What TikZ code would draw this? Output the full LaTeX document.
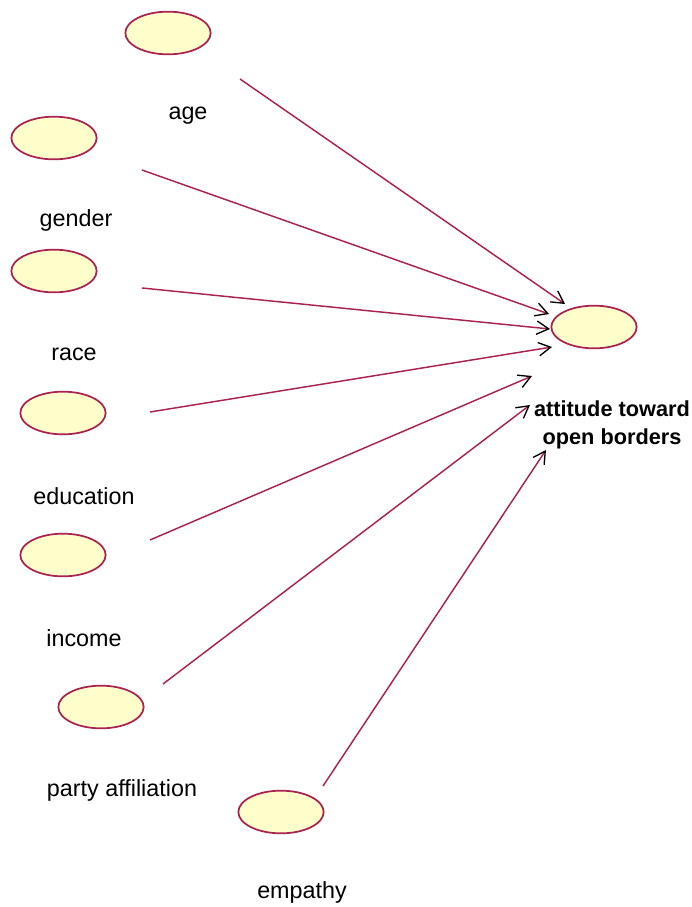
\documentclass[tikz,border=0pt]{standalone}
\usepackage{fontspec}
\setmainfont{Liberation Sans}
\usetikzlibrary{arrows.meta,shapes.geometric}
\definecolor{edgered}{RGB}{170,35,80}
\definecolor{fillyel}{RGB}{255,255,204}
\begin{document}
\begin{tikzpicture}[x=0.75pt,y=-0.75pt,
  var/.style={ellipse,draw=edgered,fill=fillyel,line width=1.3pt,minimum width=64pt,minimum height=32pt,inner sep=0pt},
  lab/.style={font=\fontsize{17.5}{20}\selectfont,text=black,inner sep=0pt},
  conn/.style={draw=edgered,line width=1.1pt,-{Straight Barb[color=black,length=9pt,width=10pt,line width=1pt]}}]
\useasboundingbox (0,0) rectangle (692,907);
\node[var] (age) at (168,33) {};
\node[var] (gender) at (54,138) {};
\node[var] (race) at (54,271) {};
\node[var] (edu) at (63,413) {};
\node[var] (inc) at (63,555) {};
\node[var] (party) at (101,707) {};
\node[var] (emp) at (281,812) {};
\node[var] (att) at (594,327) {};
\node[lab] (lage) at (188,116) {age};
\node[lab] (lgender) at (76,220) {gender};
\node[lab] (lrace) at (74,354) {race};
\node[lab] (ledu) at (84,496) {education};
\node[lab] (linc) at (84,638) {income};
\node[lab] (lparty) at (122,790) {party affiliation};
\node[lab] (lemp) at (302,892) {empathy};
\node[lab,font=\fontsize{16.3}{21.5}\selectfont\bfseries,align=center] (latt) at (612,425) {attitude toward\\open borders};
\coordinate (sage) at (240,79);
\coordinate (sgender) at (142,170);
\coordinate (srace) at (142,288);
\coordinate (sedu) at (150,412);
\coordinate (sinc) at (150,540);
\coordinate (sparty) at (163,684);
\coordinate (semp) at (323,786);
\coordinate (t1) at (565,304);
\coordinate (t2) at (549,314);
\coordinate (t3) at (550,329);
\coordinate (t4) at (552,347);
\coordinate (t5) at (532,376);
\coordinate (t6) at (530,405);
\coordinate (t7) at (546,450);
\draw[conn] (sage) -- (t1);
\draw[conn] (sgender) -- (t2);
\draw[conn] (srace) -- (t3);
\draw[conn] (sedu) -- (t4);
\draw[conn] (sinc) -- (t5);
\draw[conn] (sparty) -- (t6);
\draw[conn] (semp) -- (t7);
\end{tikzpicture}
\end{document}
